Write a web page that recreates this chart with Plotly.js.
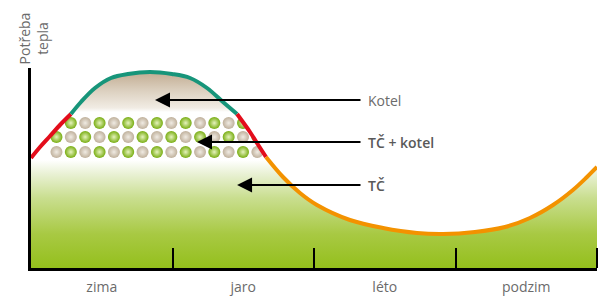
<!DOCTYPE html>
<html><head><meta charset="utf-8">
<script src="https://cdn.plot.ly/plotly-3.0.1.min.js"></script>
<style>html,body{margin:0;padding:0;background:#fff}#chart{width:600px;height:302px}</style>
</head><body><div id="chart"></div>
<script>
// heat demand over the year (x = week of year, y = relative demand)
const weeks  = [0, 0.83, 1.75, 2.66, 3.67, 4.59, 5.88, 7.35, 8.91, 10.93, 12.95, 14.61, 16.17, 17.64, 18.93, 20.12, 20.76, 21.59, 23.15, 24.71, 26.27, 29.30, 32.34, 35.46, 37.85, 40.79, 43.55, 45.84, 47.96, 49.79, 51.08, 52];
const demand = [112, 123, 134, 145, 156, 168, 182, 192, 196, 198, 196, 192, 182, 168, 156, 138, 127, 113, 93, 77, 65, 50, 42, 37, 36, 38, 43, 52, 65, 80, 93, 103];
// curve segments (index ranges into weeks/demand)
const segStart = [0, 4, 14, 17];
const segEnd   = [4, 14, 17, 31];
const segColor = ['#e30d1b', '#17957a', '#e30d1b', '#f39200'];

const seasons       = ['zima', 'jaro', 'léto', 'podzim'];
const seasonCenters = [6.5, 19.5, 32.5, 45.5];
const seasonBounds  = [13, 26, 39, 52];

// dot pattern (TČ + kotel band)
const dotColumns = [2.34, 3.66, 4.98, 6.30, 7.62, 8.93, 10.25, 11.57, 12.89, 14.21, 15.53, 16.84, 18.16, 19.48, 20.80];
const dotRows    = [147, 133, 118];

const labels      = ['Kotel', 'TČ + kotel', 'TČ'];
const labelLevels = [170, 128, 85];
const arrowTips   = [11.39, 15.25, 18.93];
const arrowTail   = 30.41;
const labelX      = 30.78;

const NB = '\u00A0';
const axisTitle = 'Potřeba<br>tepla' + NB.repeat(5);

const traces = [];
// gradient area under the curve
traces.push({
  x: weeks, y: demand, mode: 'lines', line: {width: 0, shape: 'spline', smoothing: 1},
  fill: 'tozeroy',
  fillgradient: {type: 'vertical', start: 0, stop: 200, colorscale: [
    [0, '#93bf1a'], [0.18, '#a8c943'], [0.36, '#c9de8f'], [0.48, '#e9f1d4'], [0.55, '#ffffff'],
    [0.79, '#ffffff'], [0.81, '#f1ece4'], [0.9, '#dbcfbe'], [1, '#bea88d']]},
  hoverinfo: 'skip'
});
// dots
const gx = [], gy = [], bx = [], by = [];
dotRows.forEach((yv, r) => dotColumns.forEach((xv, c) => {
  if ((r + c) % 2 === 1) { gx.push(xv); gy.push(yv); } else { bx.push(xv); by.push(yv); }
}));
traces.push({x: bx, y: by, mode: 'markers', marker: {size: 12, color: '#bfb09b', gradient: {type: 'radial', color: '#f0ebe3'}, line: {width: 0}}, hoverinfo: 'skip'});
traces.push({x: gx, y: gy, mode: 'markers', marker: {size: 12, color: '#78ad12', gradient: {type: 'radial', color: '#e6f3bd'}, line: {width: 0}}, hoverinfo: 'skip'});
// white mask above the curve
traces.push({x: [0, 52], y: [202, 202], mode: 'lines', line: {width: 0}, hoverinfo: 'skip'});
traces.push({x: weeks, y: demand, mode: 'lines', line: {width: 0, shape: 'spline', smoothing: 1}, fill: 'tonexty', fillcolor: '#ffffff', hoverinfo: 'skip'});
// curve segments
for (let i = 0; i < segStart.length; i++) {
  traces.push({
    x: weeks.slice(segStart[i], segEnd[i] + 1), y: demand.slice(segStart[i], segEnd[i] + 1),
    mode: 'lines', line: {color: segColor[i], width: 4, shape: 'spline', smoothing: 1}, hoverinfo: 'skip'
  });
}
// carrier for the axis title axis
traces.push({x: [null], y: [null], yaxis: 'y2', mode: 'markers', hoverinfo: 'skip'});

const annotations = [];
labels.forEach((t, i) => {
  annotations.push({x: arrowTips[i], y: labelLevels[i], ax: arrowTail, ay: labelLevels[i], xref: 'x', yref: 'y', axref: 'x', ayref: 'y',
    text: '', showarrow: true, arrowhead: 2, arrowsize: 1.5, arrowwidth: 2, arrowcolor: '#000'});
  annotations.push({x: labelX, y: labelLevels[i], xref: 'x', yref: 'y', xanchor: 'left', yanchor: 'middle', showarrow: false,
    text: t, font: {family: 'Open Sans', size: 14, color: i === 0 ? '#6b6b6b' : '#595959', weight: i === 0 ? 400 : 600}});
});

const layout = {
  width: 600, height: 302, margin: {l: 31, r: 3, t: 8, b: 34},
  paper_bgcolor: '#ffffff', plot_bgcolor: '#ffffff', showlegend: false,
  xaxis: {range: [0, 52], showgrid: false, zeroline: false, showline: true, linecolor: '#000', linewidth: 3,
    tickmode: 'array', tickvals: seasonCenters, ticktext: seasons, ticks: '', ticklabelstandoff: 4,
    tickfont: {family: 'Open Sans', size: 14, color: '#6b6b6b'},
    minor: {tickmode: 'array', tickvals: seasonBounds, ticks: 'inside', ticklen: 20, tickwidth: 2, tickcolor: '#000', showgrid: false}},
  yaxis: {domain: [0, 0.76923], range: [2, 202], showgrid: false, zeroline: false, showline: true, linecolor: '#000', linewidth: 3,
    showticklabels: false, ticks: ''},
  yaxis2: {domain: [0.8, 0.9654], anchor: 'free', position: 0.04, side: 'left', range: [0, 1],
    showgrid: false, zeroline: false, showline: false, showticklabels: false, ticks: '', automargin: false,
    title: {text: axisTitle, standoff: 0, font: {family: 'Open Sans', size: 14, color: '#6b6b6b'}}},
  annotations: annotations
};
Plotly.newPlot('chart', traces, layout, {staticPlot: true, displayModeBar: false});
</script></body></html>
